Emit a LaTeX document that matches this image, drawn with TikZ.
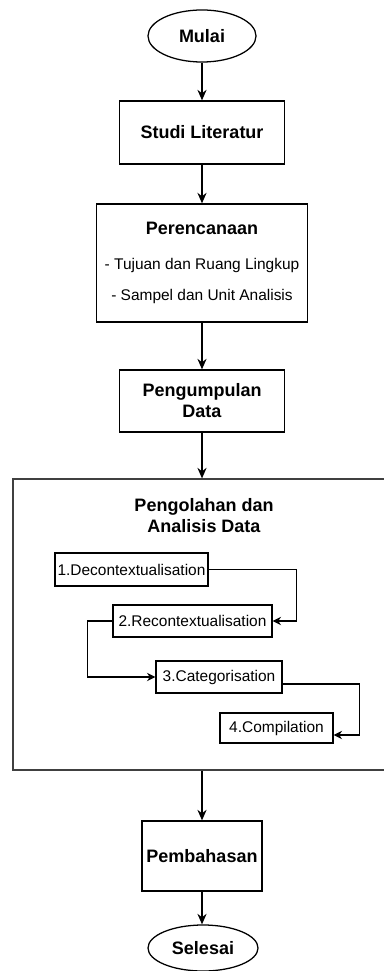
\documentclass[tikz,border=0pt]{standalone}
\usepackage{fontspec}
\setmainfont{Liberation Sans}
\usetikzlibrary{arrows.meta,shapes,positioning,calc}

\begin{document}
\begin{tikzpicture}[x=0.025cm,y=-0.025cm]
    \tikzset{vertex/.style = {shape=rectangle,draw,line width=0.9pt,align=center,inner sep=0pt,font=\fontsize{12.8}{15}\selectfont\bfseries}}
    \tikzset{terminal/.style = {shape=ellipse,draw,line width=0.9pt,inner sep=0pt,font=\fontsize{12.8}{15}\selectfont\bfseries}}
    \tikzset{subvertex/.style = {shape=rectangle,draw,line width=0.8pt,inner sep=0pt,font=\fontsize{11}{13}\selectfont}}
    \tikzset{edge/.style = {-{Stealth[length=7.5pt,width=6.5pt]},line width=1pt}}
    \tikzset{subedge/.style = {-{Stealth[length=6pt,width=6pt]},line width=0.8pt}}
    \useasboundingbox (0,0) rectangle (383,971);
    % vertices
    \node[terminal,minimum width=2.7cm,minimum height=1.3cm] (1) at (202,36) {Mulai};
    \node[vertex,minimum width=4.125cm,minimum height=1.575cm] (2) at (202,132.5) {Studi Literatur};
    \node[vertex,minimum width=5.275cm,minimum height=2.95cm,font=\fontsize{11}{22}\selectfont] (3) at (202,263)
        {{\fontsize{12.8}{15}\selectfont\bfseries Perencanaan}\\[3pt] - Tujuan dan Ruang Lingkup\\ - Sampel dan Unit Analisis};
    \node[vertex,minimum width=4.125cm,minimum height=1.55cm] (4) at (202,401) {Pengumpulan\\Data};
    \node[shape=rectangle,draw=black!75,line width=0.8pt,minimum width=9.325cm,minimum height=7.275cm] (5) at (199.5,624.5) {};
    \node[align=center,font=\fontsize{12.8}{15}\selectfont\bfseries] (6) at (204,516) {Pengolahan dan\\Analisis Data};
    \node[vertex,minimum width=3cm,minimum height=1.75cm] (7) at (202,856) {Pembahasan};
    \node[terminal,minimum width=2.75cm,minimum height=1.15cm] (8) at (203,948) {Selesai};
    % analysis steps
    \node[subvertex,minimum width=3.825cm,minimum height=0.825cm] (9) at (131.5,569.5) {1.Decontextualisation};
    \node[subvertex,minimum width=3.975cm,minimum height=0.8cm] (10) at (192.5,621) {2.Recontextualisation};
    \node[subvertex,minimum width=3.15cm,minimum height=0.8cm] (11) at (219,677) {3.Categorisation};
    \node[subvertex,minimum width=2.825cm,minimum height=0.75cm] (12) at (276.5,728) {4.Compilation};
    \draw[edge] (1) -- (2);
    \draw[edge] (2) -- (3);
    \draw[edge] (3) -- (4);
    \draw[edge] (4) -- (4 |- 5.north);
    \draw[edge] (5.south -| 7) -- (7);
    \draw[edge] (7) -- (7 |- 8.north);
    \draw[subedge] (9.east) -- ++(88,0) |- (10.east);
    \draw[subedge] (10.west) -- ++(-25,0) |- (11.west);
    \draw[subedge] ($(11.east)+(0,7)$) -- ++(77,0) |- ($(12.east)+(0,7)$);
\end{tikzpicture}
\end{document}
